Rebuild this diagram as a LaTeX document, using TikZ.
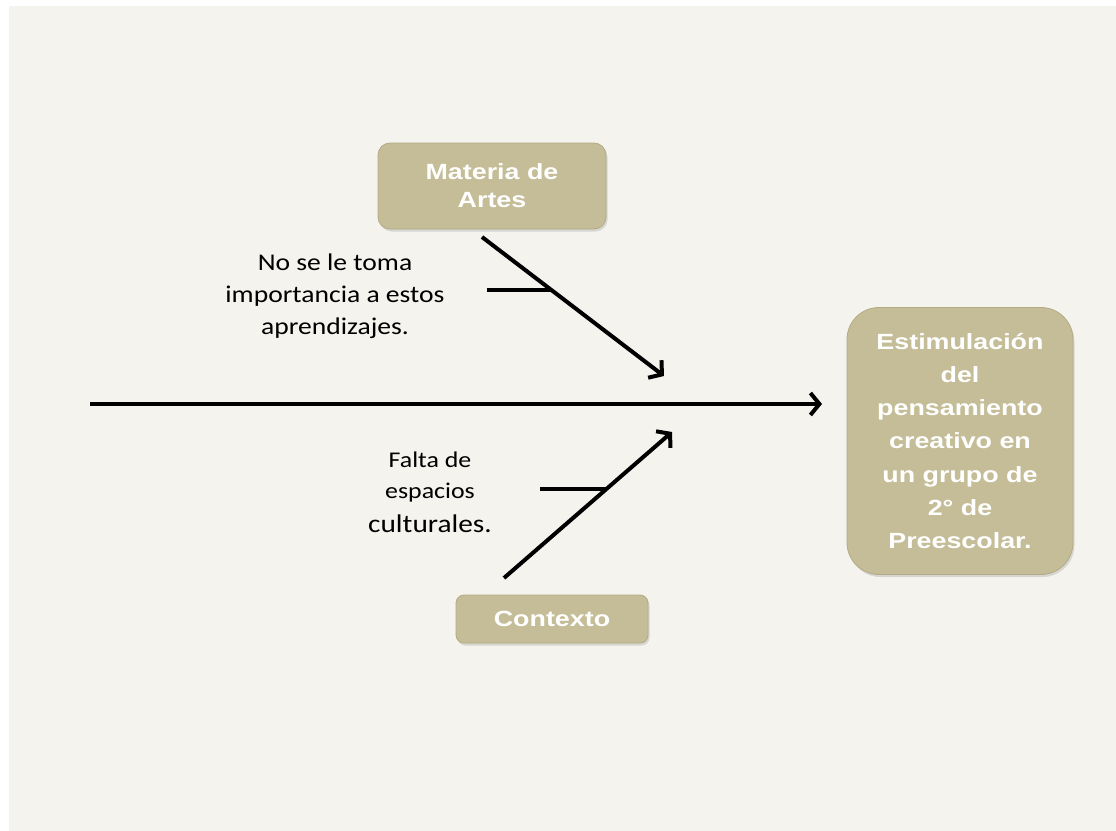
\documentclass[tikz,border=0pt]{standalone}
\usepackage{fontspec}
\usetikzlibrary{arrows.meta,shadows,calc}
\newfontfamily\boxfont[FakeStretch=1.22]{Liberation Sans}
\newfontfamily\labelfont[FakeStretch=1.15]{Carlito}
\definecolor{tanfill}{HTML}{C4BD97}
\definecolor{tanedge}{HTML}{B3AB85}
\definecolor{slidebg}{HTML}{F4F3EE}
\begin{document}
\begin{tikzpicture}[x=1bp,y=-1bp,
  tanbox/.style={draw=tanedge, line width=0.8bp, fill=tanfill, text=white,
    font=\boxfont\bfseries\fontsize{22bp}{28bp}\selectfont, align=center, inner sep=0pt,
    drop shadow={shadow xshift=1.5bp, shadow yshift=-2.5bp, opacity=0.25}},
  lbl/.style={anchor=base, inner sep=0pt, text=black},
  bone/.style={line width=4bp, draw=black},
  tip/.style={-{Straight Barb[length=9bp,width=22bp]}}
]
\path[use as bounding box] (0,0) rectangle (1116,831);
\fill[slidebg] (9,6) rectangle (1116,831);

% boxes
\node[tanbox, minimum width=228bp, minimum height=86bp, rounded corners=12bp] (artes) at (492,186) {Materia de\\Artes};
\node[tanbox, minimum width=192bp, minimum height=48bp, rounded corners=8bp] (contexto) at (552,619) {Contexto};
\node[tanbox, minimum width=226bp, minimum height=267bp, rounded corners=32bp,
  font=\boxfont\bfseries\fontsize{22bp}{33.3bp}\selectfont] (efecto) at (960,441)
  {Estimulación\\del\\pensamiento\\creativo en\\un grupo de\\2° de\\Preescolar.};

% spine
\coordinate (cola) at (90,404);
\coordinate (cabeza) at (822,404);
\draw[bone, tip] (cola) -- (cabeza);

% upper bone
\coordinate (a1) at (482,237);
\coordinate (a2) at (664,376);
\draw[bone, tip] (a1) -- (a2);
\coordinate (t1) at ($(a1)!0.381!(a2)$);
\coordinate (t1e) at ($(t1)+(-64,0)$);
\draw[bone] (t1) -- (t1e);

% lower bone
\coordinate (b1) at (504,578);
\coordinate (b2) at (672,432);
\draw[bone, tip] (b1) -- (b2);
\coordinate (t2) at ($(b1)!0.61!(b2)$);
\coordinate (t2e) at ($(t2)+(-66,0)$);
\draw[bone] (t2) -- (t2e);

% labels
\node[lbl, font=\labelfont\fontsize{24bp}{28bp}\selectfont] (l1) at (335,270) {No se le toma};
\node[lbl, font=\labelfont\fontsize{24bp}{28bp}\selectfont] (l2) at (335,302) {importancia a estos};
\node[lbl, font=\labelfont\fontsize{24bp}{28bp}\selectfont] (l3) at (335,334) {aprendizajes.};

\node[lbl, font=\labelfont\fontsize{22.5bp}{28bp}\selectfont] (m1) at (430,467) {Falta de};
\node[lbl, font=\labelfont\fontsize{22.5bp}{28bp}\selectfont] (m2) at (430,498) {espacios};
\node[lbl, font=\labelfont\fontsize{25.5bp}{28bp}\selectfont] (m3) at (430,532) {culturales.};
\end{tikzpicture}
\end{document}
